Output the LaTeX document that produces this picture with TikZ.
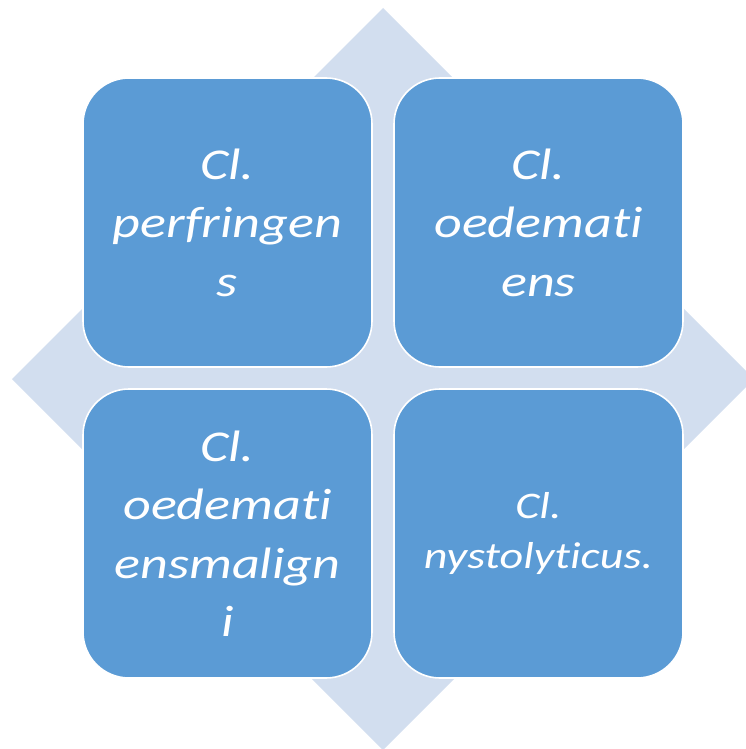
\documentclass[tikz,border=0pt]{standalone}
\usepackage{fontspec}
\setmainfont[FakeStretch=1.23, Ligatures=NoCommon]{Carlito}
\definecolor{tileblue}{HTML}{5B9BD5}
\definecolor{diamondbg}{HTML}{D2DEEF}
\begin{document}
\begin{tikzpicture}[x=1pt,y=-1pt,
  tile/.style={draw=white, line width=1.6pt, fill=tileblue, rounded corners=46pt,
    minimum width=289pt, minimum height=289pt, inner sep=0pt},
  tiletext/.style={text=white, align=center, inner sep=0pt,
    font=\itshape\fontsize{44}{58.5}\selectfont},
  smalltext/.style={text=white, align=center, inner sep=0pt,
    font=\itshape\fontsize{37.5}{50}\selectfont}]
  \useasboundingbox (0,0) rectangle (745,749);
  % light diamond behind the four tiles
  \fill[diamondbg] (383,8) -- (754,379) -- (383,750) -- (12,379) -- cycle;
  % the four tiles
  \node[tile] (tl) at (227.5,222.5) {};
  \node[tile] (tr) at (538.5,222.5) {};
  \node[tile] (bl) at (227.5,533.5) {};
  \node[tile] (br) at (538.5,533.5) {};
  % labels
  \node[tiletext] (tlt) at (tl.center) {Cl.\\perfringen\\s};
  \node[tiletext] (trt) at (tr.center) {Cl.\\oedemati\\ens};
  \node[tiletext] (blt) at (bl.center) {Cl.\\oedemati\\ensmalign\\i};
  \node[smalltext] (brt) at (br.center) {Cl.\\nystolyticus.};
\end{tikzpicture}
\end{document}
